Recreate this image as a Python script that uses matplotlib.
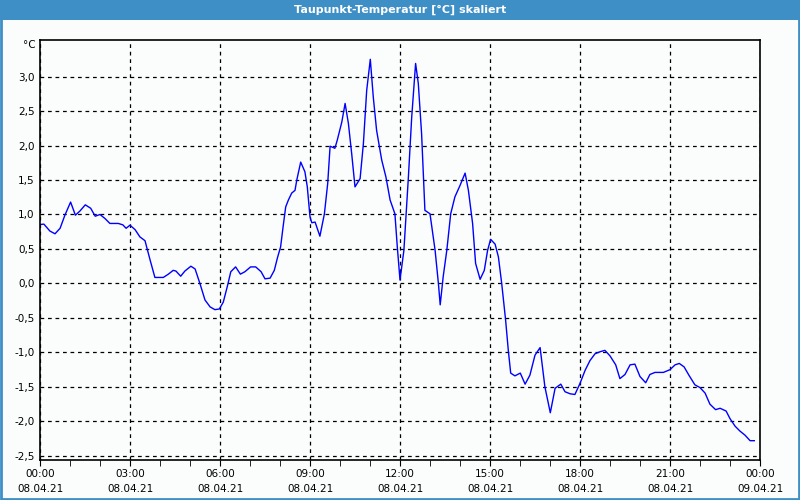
import matplotlib
matplotlib.use("Agg")
import matplotlib.pyplot as plt
from matplotlib.patches import Rectangle
from matplotlib.ticker import MultipleLocator, FixedLocator, FuncFormatter

# time in hours since 08.04.21 00:00
hours = [0.0, 0.13, 0.33, 0.5, 0.67, 0.83, 1.02, 1.18, 1.33, 1.51, 1.69, 1.84, 2.0,
         2.17, 2.33, 2.61, 2.76, 2.87, 3.0, 3.17, 3.33, 3.5, 3.67, 3.83, 4.11, 4.28,
         4.44, 4.53, 4.69, 4.83, 5.03, 5.17, 5.33, 5.5, 5.67, 5.83, 5.98, 6.11, 6.24,
         6.36, 6.52, 6.68, 6.83, 7.02, 7.19, 7.37, 7.5, 7.67, 7.81, 7.92, 8.02, 8.11,
         8.19, 8.28, 8.39, 8.5, 8.56, 8.69, 8.83, 8.91, 9.0, 9.06, 9.17, 9.33, 9.48,
         9.59, 9.67, 9.83, 9.91, 10.06, 10.17, 10.28, 10.39, 10.5, 10.67, 10.78, 10.89,
         11.01, 11.11, 11.22, 11.39, 11.53, 11.67, 11.83, 11.91, 12.0, 12.13, 12.28,
         12.39, 12.52, 12.61, 12.72, 12.83, 13.0, 13.17, 13.28, 13.34, 13.44, 13.56,
         13.69, 13.83, 14.0, 14.17, 14.28, 14.42, 14.52, 14.67, 14.81, 14.92, 15.02,
         15.17, 15.28, 15.39, 15.52, 15.61, 15.69, 15.83, 16.01, 16.17, 16.33, 16.5,
         16.67, 16.83, 17.01, 17.17, 17.36, 17.5, 17.67, 17.83, 18.0, 18.17, 18.33,
         18.5, 18.67, 18.83, 19.0, 19.19, 19.33, 19.5, 19.67, 19.83, 20.0, 20.19,
         20.33, 20.5, 20.78, 21.0, 21.17, 21.31, 21.47, 21.63, 21.83, 22.0, 22.17,
         22.33, 22.52, 22.67, 22.87, 23.0, 23.17, 23.33, 23.5, 23.67, 23.81]
dewpoint = [0.855, 0.86, 0.76, 0.72, 0.80, 0.99, 1.18, 0.99, 1.05, 1.14, 1.09, 0.975, 1.0,
            0.94, 0.87, 0.87, 0.85, 0.80, 0.845, 0.78, 0.675, 0.62, 0.34, 0.087, 0.087, 0.135,
            0.19, 0.18, 0.105, 0.18, 0.25, 0.21, 0.0, -0.24, -0.34, -0.38, -0.37, -0.27, -0.05,
            0.17, 0.24, 0.135, 0.17, 0.24, 0.24, 0.17, 0.067, 0.077, 0.19, 0.38, 0.53, 0.845,
            1.11, 1.21, 1.31, 1.35, 1.50, 1.76, 1.62, 1.40, 0.965, 0.88, 0.89, 0.685, 1.01,
            1.45, 1.99, 1.96, 2.08, 2.34, 2.61, 2.32, 1.88, 1.40, 1.52, 2.03, 2.80,
            3.25, 2.70, 2.22, 1.79, 1.545, 1.21, 1.01, 0.53, 0.05, 0.48, 1.545,
            2.41, 3.19, 2.90, 2.17, 1.06, 1.01, 0.48, 0.0, -0.31, 0.1, 0.48,
            1.01, 1.255, 1.42, 1.60, 1.35, 0.87, 0.29, 0.06, 0.19, 0.48, 0.64,
            0.57, 0.385, 0.0, -0.53, -0.97, -1.30, -1.34, -1.30, -1.46, -1.33, -1.04,
            -0.93, -1.50, -1.875, -1.52, -1.46, -1.57, -1.60, -1.61, -1.45, -1.26, -1.12,
            -1.02, -0.99, -0.97, -1.05, -1.18, -1.38, -1.32, -1.18, -1.17, -1.35, -1.44,
            -1.32, -1.29, -1.29, -1.25, -1.18, -1.16, -1.21, -1.33, -1.47, -1.51, -1.59,
            -1.75, -1.83, -1.81, -1.85, -1.96, -2.07, -2.14, -2.20, -2.28, -2.28]

xtick_hours = [0, 3, 6, 9, 12, 15, 18, 21, 24]
xtick_labels = ["00:00\n08.04.21", "03:00\n08.04.21", "06:00\n08.04.21", "09:00\n08.04.21",
                "12:00\n08.04.21", "15:00\n08.04.21", "18:00\n08.04.21", "21:00\n08.04.21",
                "00:00\n09.04.21"]
ytick_values = [-2.5, -2.0, -1.5, -1.0, -0.5, 0.0, 0.5, 1.0, 1.5, 2.0, 2.5, 3.0]
title = "Taupunkt-Temperatur [°C] skaliert"
unit = "°C"

plt.rcParams['font.family'] = ['DejaVu Sans']
fig = plt.figure(figsize=(8, 5), dpi=100)
fig.patch.set_facecolor('#fbfdfc')

blue = '#3d8fc6'
# title bar and border
fig.patches.append(Rectangle((0, 1 - 20 / 500), 1, 20 / 500, transform=fig.transFigure,
                             facecolor=blue, edgecolor='none', zorder=0))
fig.patches.append(Rectangle((0.001, 0.002), 0.998, 0.996, transform=fig.transFigure,
                             facecolor='none', edgecolor=blue, linewidth=2, zorder=1))
fig.text(0.5, 1 - 10 / 500, title, color='white', ha='center', va='center',
         fontsize=8, fontweight='bold')

ax = fig.add_axes([40 / 800, 40 / 500, 720 / 800, 420 / 500])
ax.set_facecolor('#fbfdfc')
ax.plot(hours, dewpoint, color='#0000ff', linewidth=1)
ax.set_xlim(0, 24)
ax.set_ylim(-2.56, 3.53)

ax.set_xticks(xtick_hours)
ax.set_xticklabels(xtick_labels, fontsize=7.5, linespacing=1.65)
ax.xaxis.set_minor_locator(MultipleLocator(1))
ax.yaxis.set_major_locator(FixedLocator(ytick_values))
ax.yaxis.set_major_formatter(FuncFormatter(lambda v, p: f"{v:.1f}".replace('.', ',').replace('-0,0', '0,0')))
ax.tick_params(axis='y', length=0, labelsize=7.5, pad=4)
ax.tick_params(axis='x', which='major', length=4, pad=2.5, direction='out')
ax.tick_params(axis='x', which='minor', length=4, direction='out')

ax.grid(True, which='major', color='black', linestyle=(0, (3, 3)), linewidth=0.9)
for s in ax.spines.values():
    s.set_linewidth(1.2)
    s.set_color('black')

ax.text(-0.006, 1.0, unit, transform=ax.transAxes, ha='right', va='top', fontsize=7.5)

fig.savefig("out.png", dpi=100, facecolor=fig.get_facecolor())
